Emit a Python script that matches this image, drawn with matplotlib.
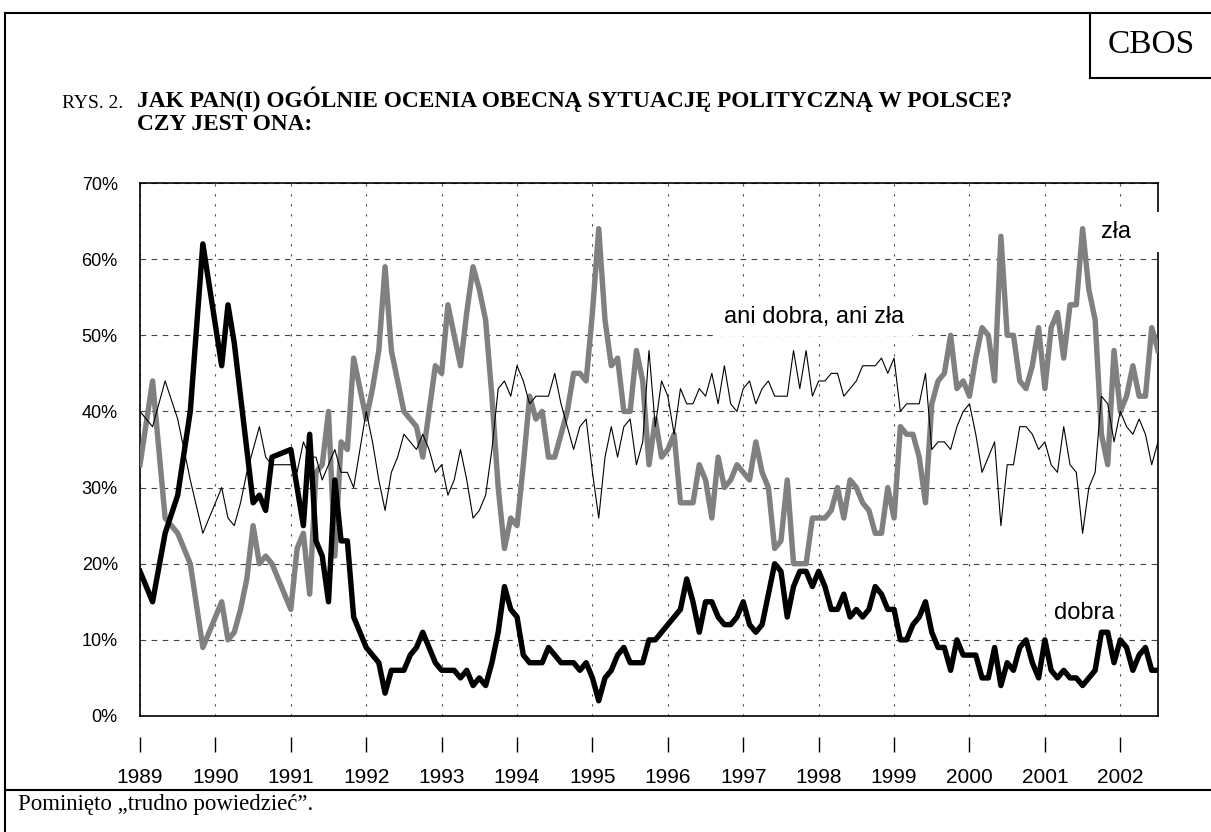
import numpy as np
import pandas as pd
import matplotlib
matplotlib.use('Agg')
import matplotlib.pyplot as plt
from matplotlib.lines import Line2D
from matplotlib.patches import Rectangle
from matplotlib.ticker import FuncFormatter

plt.rcParams['font.family'] = ['Liberation Sans', 'DejaVu Sans']

# survey dates: irregular until Feb 1991, monthly afterwards
early_months = ['1989-01', '1989-03', '1989-05', '1989-07', '1989-09', '1989-11',
                '1990-02', '1990-03', '1990-04', '1990-05', '1990-06', '1990-07',
                '1990-08', '1990-09', '1990-10', '1991-01', '1991-02']
monthly = pd.period_range('1991-03', '2002-07', freq='M')
periods = list(pd.PeriodIndex(early_months, freq='M')) + list(monthly)
t = np.array([p.year + (p.month - 1) / 12 for p in periods])

dobra = [19, 15, 24, 29, 40, 62, 46, 54, 49, 42, 35, 28, 29, 27, 34, 35, 30,
         25, 37, 23, 21, 15, 31, 23, 23, 13, 11,              # 1991
         9, 8, 7, 3, 6, 6, 6, 8, 9, 11, 9, 7,                 # 1992
         6, 6, 6, 5, 6, 4, 5, 4, 7, 11, 17, 14,               # 1993
         13, 8, 7, 7, 7, 9, 8, 7, 7, 7, 6, 7,                 # 1994
         5, 2, 5, 6, 8, 9, 7, 7, 7, 10, 10, 11,               # 1995
         12, 13, 14, 18, 15, 11, 15, 15, 13, 12, 12, 13,      # 1996
         15, 12, 11, 12, 16, 20, 19, 13, 17, 19, 19, 17,      # 1997
         19, 17, 14, 14, 16, 13, 14, 13, 14, 17, 16, 14,      # 1998
         14, 10, 10, 12, 13, 15, 11, 9, 9, 6, 10, 8,          # 1999
         8, 8, 5, 5, 9, 4, 7, 6, 9, 10, 7, 5,                 # 2000
         10, 6, 5, 6, 5, 5, 4, 5, 6, 11, 11, 7,               # 2001
         10, 9, 6, 8, 9, 6, 6]                                # 2002

zla = [33, 44, 26, 24, 20, 9, 15, 10, 11, 14, 18, 25, 20, 21, 20, 14, 22,
       24, 16, 32, 33, 40, 21, 36, 35, 47, 43,
       39, 43, 48, 59, 48, 44, 40, 39, 38, 34, 40, 46,
       45, 54, 50, 46, 53, 59, 56, 52, 42, 30, 22, 26,
       25, 33, 42, 39, 40, 34, 34, 37, 40, 45, 45, 44,
       53, 64, 52, 46, 47, 40, 40, 48, 44, 33, 39, 34,
       35, 37, 28, 28, 28, 33, 31, 26, 34, 30, 31, 33,
       32, 31, 36, 32, 30, 22, 23, 31, 20, 20, 20, 26,
       26, 26, 27, 30, 26, 31, 30, 28, 27, 24, 24, 30,
       26, 38, 37, 37, 34, 28, 41, 44, 45, 50, 43, 44,
       42, 47, 51, 50, 44, 63, 50, 50, 44, 43, 46, 51,
       43, 51, 53, 47, 54, 54, 64, 56, 52, 37, 33, 48,
       40, 42, 46, 42, 42, 51, 48]

ani = [40, 38, 44, 39, 31, 24, 30, 26, 25, 28, 32, 35, 38, 34, 33, 33, 32,
       36, 34, 34, 31, 33, 35, 32, 32, 30, 35,
       40, 36, 31, 27, 32, 34, 37, 36, 35, 37, 35, 32,
       33, 29, 31, 35, 31, 26, 27, 29, 35, 43, 44, 42,
       46, 44, 41, 42, 42, 42, 45, 41, 38, 35, 38, 39,
       32, 26, 34, 38, 34, 38, 39, 33, 36, 48, 38, 44,
       42, 37, 43, 41, 41, 43, 42, 45, 41, 46, 41, 40,
       43, 44, 41, 43, 44, 42, 42, 42, 48, 43, 48, 42,
       44, 44, 45, 45, 42, 43, 44, 46, 46, 46, 47, 45,
       47, 40, 41, 41, 41, 45, 35, 36, 36, 35, 38, 40,
       41, 37, 32, 34, 36, 25, 33, 33, 38, 38, 37, 35,
       36, 33, 32, 38, 33, 32, 24, 30, 32, 42, 41, 36,
       40, 38, 37, 39, 37, 33, 36]

years = list(range(1989, 2003))
assert len(dobra) == len(zla) == len(ani) == len(t)

W, H = 1211, 832
fig = plt.figure(figsize=(W / 100, H / 100), dpi=100)
ax = fig.add_axes([140 / W, 1 - 716 / H, (1158 - 140) / W, (716 - 183) / H])

ax.plot(t, zla, color='#808080', lw=3.9, zorder=3)
ax.plot(t, dobra, color='black', lw=3.9, zorder=3)
ax.plot(t, ani, color='black', lw=0.8, zorder=3)

ax.set_xlim(1989, 2002.5)
ax.set_ylim(0, 70)
ax.set_xticks(years)
ax.set_yticks(range(0, 71, 10))
ax.yaxis.set_major_formatter(FuncFormatter(lambda v, p: f'{v:.0f}%'))
ax.xaxis.grid(True, color='#444444', lw=0.8, linestyle=(0, (2, 7)))
ax.yaxis.grid(True, color='#444444', lw=0.8, linestyle=(0, (5, 5)))
ax.tick_params(axis='x', length=0, labelbottom=False)
ax.tick_params(axis='y', length=0, pad=16, labelsize=13)
for sp in ax.spines.values():
    sp.set_linewidth(1.2)

# year ticks sit a bit below the plot area
sec = ax.secondary_xaxis(-(737 - 716) / (716 - 183))
sec.spines['bottom'].set_visible(False)
sec.set_xticks(years)
sec.tick_params(length=11, width=1, pad=11, labelsize=15)

# series labels
ax.text(1996.74, 52.4, 'ani dobra, ani zła', fontsize=17, va='center', zorder=5,
        bbox=dict(facecolor='white', edgecolor='none', pad=6))
ax.text(2001.12, 13.5, 'dobra', fontsize=17, va='center', zorder=5)
ax.add_patch(Rectangle((2001.7, 61.0), 0.9, 5.2, facecolor='white', edgecolor='none',
                       clip_on=False, zorder=4))
ax.text(2001.74, 63.5, 'zła', fontsize=17, va='center', zorder=5)

# page frame
serif = 'Liberation Serif'
frame = [((5, 13), (1211, 13)), ((5, 13), (5, 832)), ((5, 790), (1211, 790)),
         ((1090, 13), (1090, 78)), ((1090, 78), (1211, 78))]
for (x0, y0), (x1, y1) in frame:
    fig.add_artist(Line2D([x0 / W, x1 / W], [1 - y0 / H, 1 - y1 / H],
                          transform=fig.transFigure, color='black', lw=1.5))

fig.text(1151 / W, 1 - 45 / H, 'CBOS', family=serif, fontsize=24, ha='center', va='center')
fig.text(62 / W, 1 - 107.5 / H, 'RYS. 2.', family=serif, fontsize=14, va='baseline')
fig.text(137 / W, 1 - 107.5 / H,
         'JAK PAN(I) OGÓLNIE OCENIA OBECNĄ SYTUACJĘ POLITYCZNĄ W POLSCE?',
         family=serif, fontsize=16.8, fontweight='bold', va='baseline')
fig.text(137 / W, 1 - 130.5 / H, 'CZY JEST ONA:', family=serif, fontsize=16.8,
         fontweight='bold', va='baseline')
fig.text(18 / W, 1 - 810 / H, 'Pominięto \u201etrudno powiedzieć\u201d.', family=serif,
         fontsize=16.5, va='baseline')

fig.savefig('out.png', dpi=100)
